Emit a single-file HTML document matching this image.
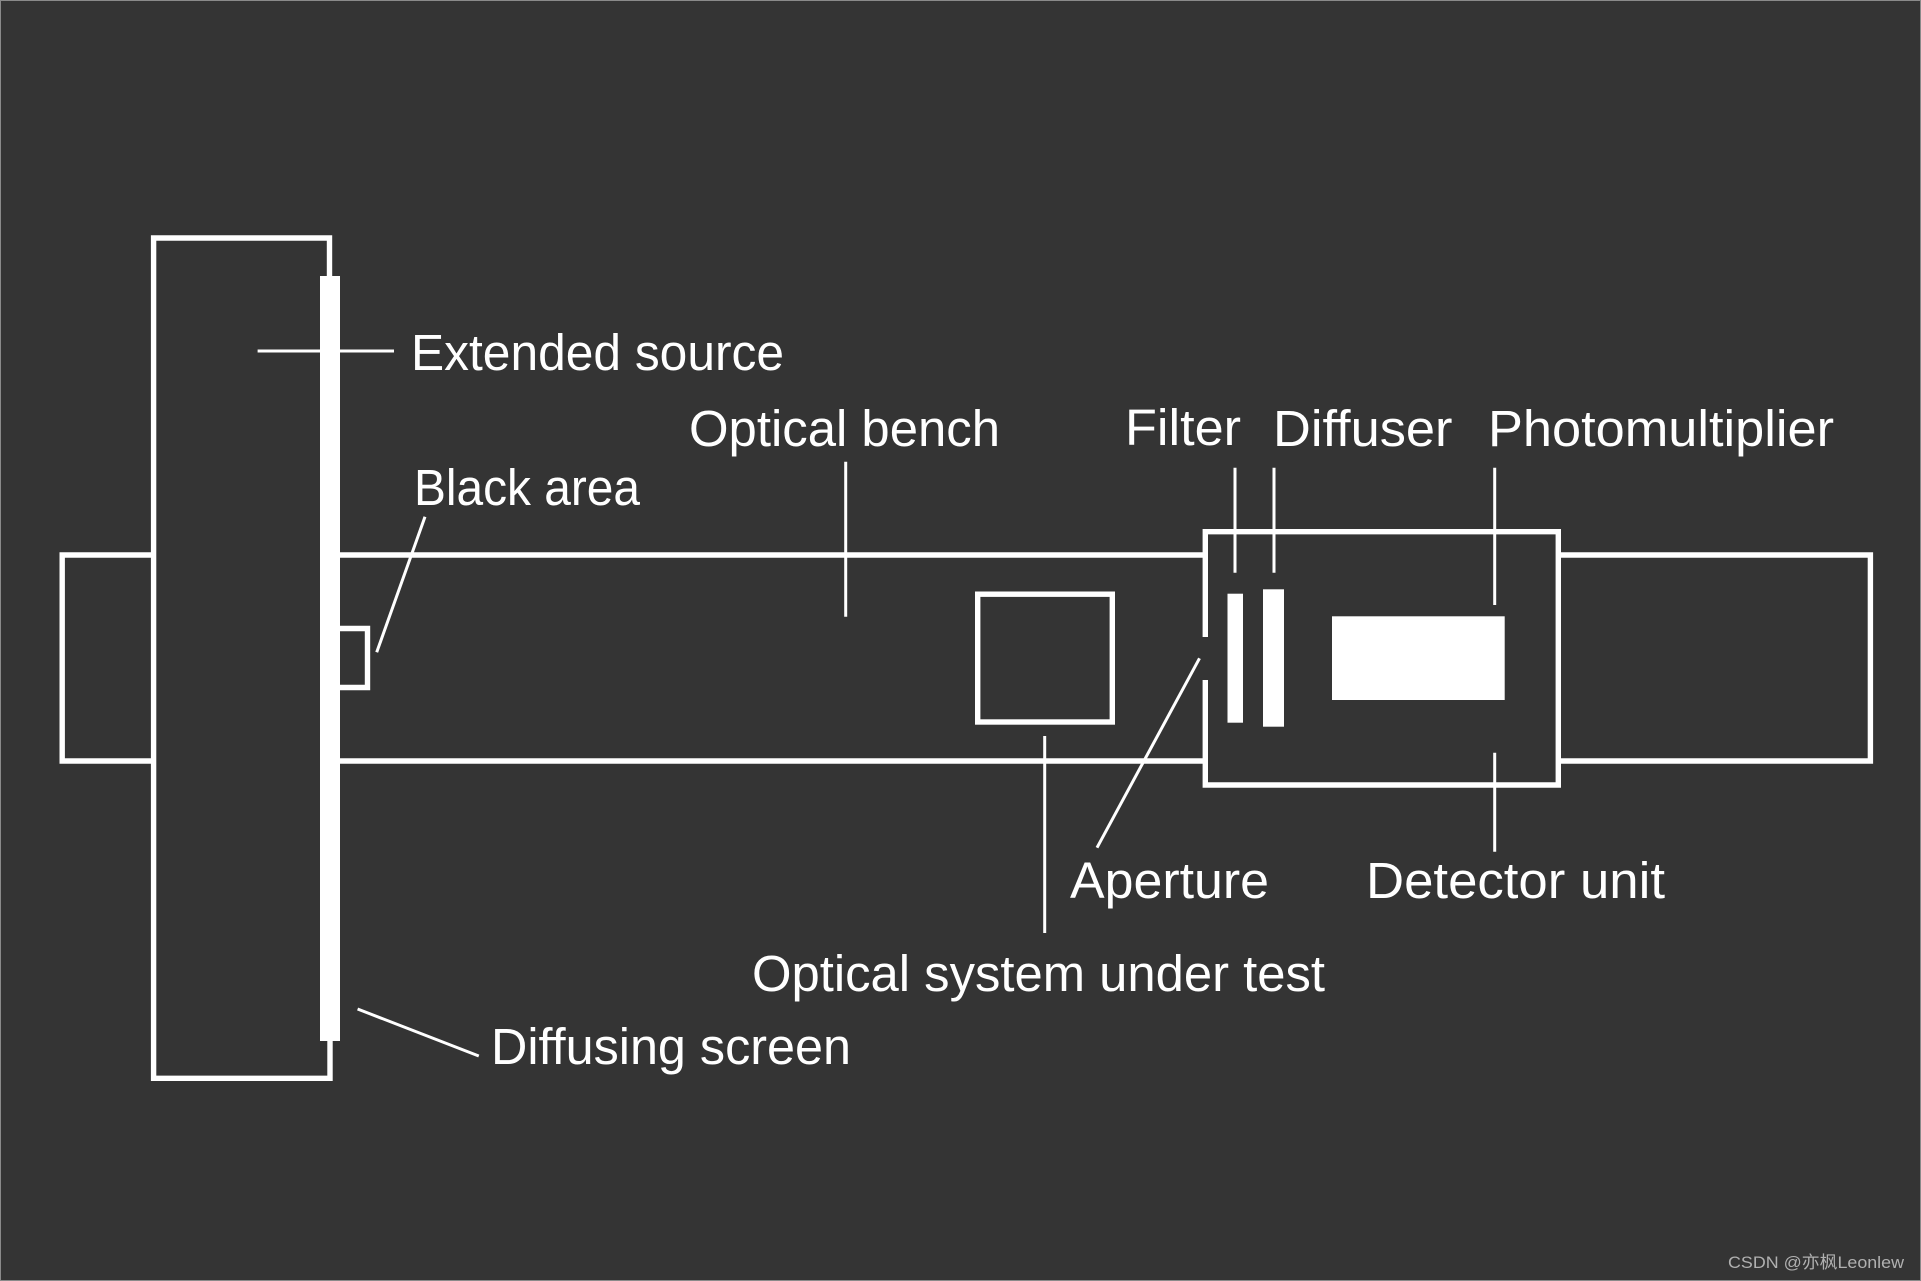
<!DOCTYPE html>
<html>
<head>
<meta charset="utf-8">
<style>
html,body{margin:0;padding:0;background:#343434;}
svg{display:block;}
text{font-family:"Liberation Sans","Noto Sans CJK SC",sans-serif;fill:#fff;font-size:51px;}
</style>
</head>
<body>
<svg width="1921" height="1281" viewBox="0 0 1921 1281" xmlns="http://www.w3.org/2000/svg">
<rect x="0" y="0" width="1921" height="1281" fill="#343434"/>
<rect x="0.5" y="0.5" width="1920" height="1280" fill="none" stroke="#8a8a8a" stroke-width="1"/>
<g fill="none" stroke="#fff" stroke-width="5.4">
<path d="M329.5 276V238H153.6V1078.3H330V1041"/>
<path d="M151 555H62.2V761H151"/>
<path d="M340 555H1203"/>
<path d="M340 761H1203"/>
<path d="M1561 555H1870.4V761H1561"/>
<path d="M340 628.5H367.5V687.5H340"/>
<rect x="977.7" y="594.2" width="134.6" height="127.8"/>
<path d="M1205.3 637V531.7H1558.3V785H1205.3V680"/>
</g>
<g fill="#fff">
<rect x="320" y="276" width="20" height="765"/>
<rect x="1227.5" y="593.7" width="15.5" height="129"/>
<rect x="1263" y="589.3" width="21" height="137.4"/>
<rect x="1332" y="616.3" width="172.7" height="83.7"/>
</g>
<g fill="none" stroke="#fff" stroke-width="3">
<path d="M257.6 351H394"/>
<path d="M425 516.7L376.7 652.3"/>
<path d="M845.7 461.7V616.7"/>
<path d="M1235 467.7V572.7"/>
<path d="M1274 467.7V572.7"/>
<path d="M1494.7 467.7V605"/>
<path d="M1494.7 752.7V851.7"/>
<path d="M1199.5 658.3L1097 847.7"/>
<path d="M1044.7 736V933"/>
<path d="M357.6 1009L478.8 1056"/>
</g>
<text x="411" y="370" textLength="373" lengthAdjust="spacingAndGlyphs">Extended source</text>
<text x="414" y="505" textLength="226" lengthAdjust="spacingAndGlyphs">Black area</text>
<text x="689" y="446" textLength="311" lengthAdjust="spacingAndGlyphs">Optical bench</text>
<text x="1125" y="445" textLength="116" lengthAdjust="spacingAndGlyphs">Filter</text>
<text x="1273" y="446" textLength="179.500" lengthAdjust="spacingAndGlyphs">Diffuser</text>
<text x="1488" y="446" textLength="346" lengthAdjust="spacingAndGlyphs">Photomultiplier</text>
<text x="1070" y="898" textLength="199" lengthAdjust="spacingAndGlyphs">Aperture</text>
<text x="1366" y="898" textLength="299" lengthAdjust="spacingAndGlyphs">Detector unit</text>
<text x="752" y="991" textLength="573" lengthAdjust="spacingAndGlyphs">Optical system under test</text>
<text x="491" y="1064" textLength="360" lengthAdjust="spacingAndGlyphs">Diffusing screen</text>
<text x="1728" y="1268" textLength="176" lengthAdjust="spacingAndGlyphs" style="font-size:17px;fill:#b0b0b0;">CSDN @亦枫Leonlew</text>
</svg>
</body>
</html>
